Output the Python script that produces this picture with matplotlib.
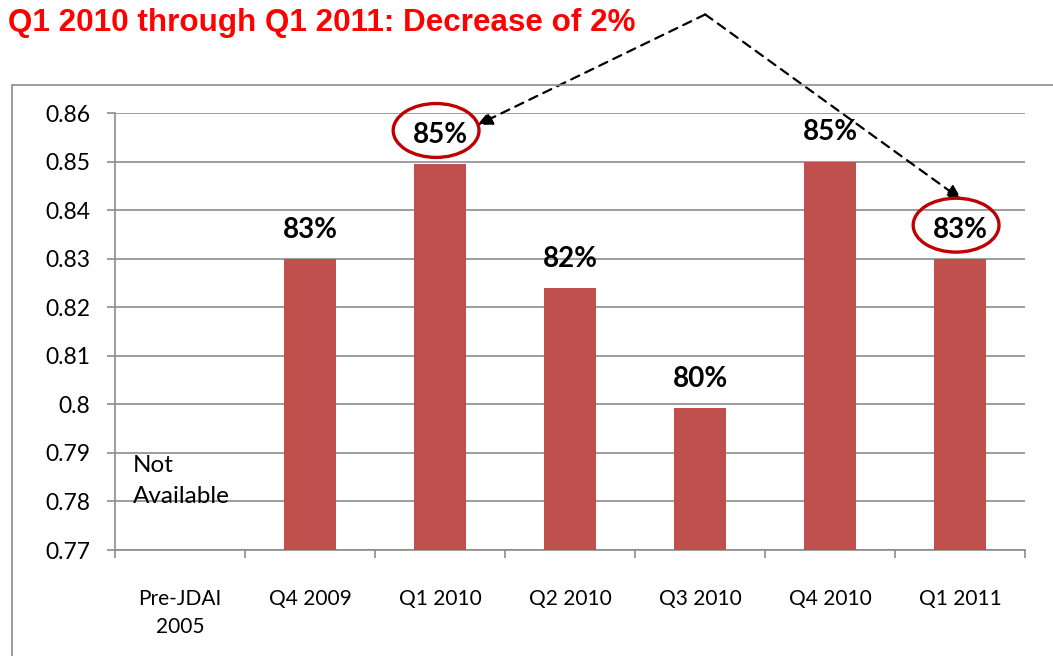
import numpy as np
import matplotlib.pyplot as plt
from matplotlib.patches import Ellipse, Rectangle

# data
categories = ['Pre-JDAI\n2005', 'Q4 2009', 'Q1 2010', 'Q2 2010', 'Q3 2010', 'Q4 2010', 'Q1 2011']
values = [np.nan, 0.83, 0.8495, 0.824, 0.7993, 0.85, 0.83]
yticks = [0.77, 0.78, 0.79, 0.8, 0.81, 0.82, 0.83, 0.84, 0.85, 0.86]
ytick_labels = ['0.77', '0.78', '0.79', '0.8', '0.81', '0.82', '0.83', '0.84', '0.85', '0.86']
title = 'Q1 2010 through Q1 2011: Decrease of 2%'
circled = [2, 6]

bar_color = '#C0504D'
grid_color = '#8C8C8C'
plt.rcParams['font.family'] = ['Lato', 'DejaVu Sans']

fig = plt.figure(figsize=(10.53, 6.56), dpi=100)
ax = fig.add_axes([115/1053, 1-550/656, 910/1053, 437/656])

x = np.arange(len(categories))
ax.bar(x, values, width=0.4, color=bar_color, zorder=3)

ax.set_xlim(-0.5, len(categories)-0.5)
ax.set_ylim(0.77, 0.86)
ax.set_yticks(yticks)
ax.set_yticklabels(ytick_labels, fontsize=16.5)
ax.set_xticks(x)
ax.set_xticklabels(categories, fontsize=15, linespacing=1.5)
ax.set_xticks(np.arange(-0.5, len(categories)), minor=True)
ax.tick_params(axis='x', which='major', length=0, pad=28)
ax.tick_params(axis='x', which='minor', length=6, width=1.2, color=grid_color, direction='out')
ax.tick_params(axis='y', length=6, width=1.2, color=grid_color, pad=12)
ax.yaxis.grid(True, color=grid_color, lw=1.2, zorder=0)
ax.set_axisbelow(True)
for s in ['top', 'right']:
    ax.spines[s].set_visible(False)
for s in ['left', 'bottom']:
    ax.spines[s].set_color(grid_color)
    ax.spines[s].set_linewidth(1.2)

# value labels
for i, v in enumerate(values):
    if np.isnan(v):
        ax.text(i-0.36, 0.7842, 'Not\nAvailable', fontsize=17.5, ha='left', va='center', linespacing=1.55)
        continue
    ax.annotate(f'{round(v*100)}%', (i, v), xytext=(0, 21), textcoords='offset points',
                ha='center', va='center', fontsize=20, fontweight='bold', zorder=5)

# red circles round the compared labels
for i in circled:
    ax.add_patch(Ellipse((i - 0.03, values[i] + 0.0069), 0.66, 0.0111, fill=False,
                         edgecolor='#C00000', lw=2.4, zorder=6, clip_on=False))

# dashed arrows from a common apex
apex = (4.04, 0.8803)
for tip in [(2.285, 0.8575), (6.015, 0.8421)]:
    ax.annotate('', xy=tip, xytext=apex, annotation_clip=False,
                arrowprops=dict(arrowstyle='-|>,head_length=0.9,head_width=0.4', color='black',
                                lw=1.6, linestyle=(0, (4, 3)), shrinkA=0, shrinkB=0))

# outer chart frame
fig.patches.append(Rectangle((12/1053, -0.05), 1.1, (656-85)/656 + 0.05, transform=fig.transFigure,
                             fill=False, edgecolor=grid_color, lw=1.2))

fig.text(635/1053, 1-23/656, title, ha='right', va='center', color='#FF0000',
         fontsize=22.6, fontweight='bold', family=['Liberation Sans', 'DejaVu Sans'])

fig.savefig('out.png', dpi=100)
